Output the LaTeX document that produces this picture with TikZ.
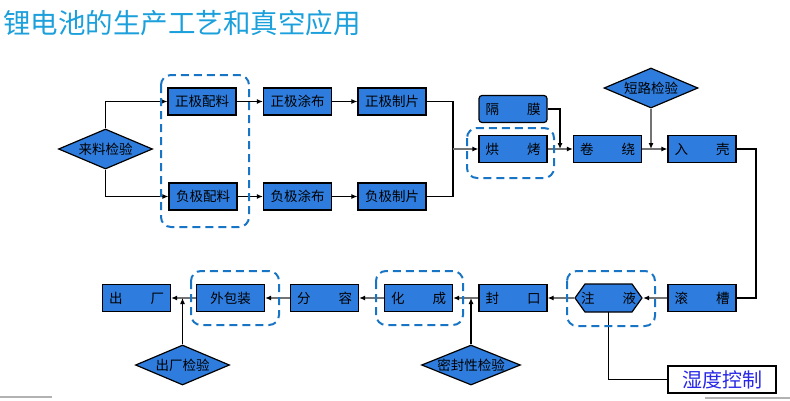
\documentclass[tikz,border=0pt]{standalone}
\usepackage{fontspec}
\setmainfont{Noto Sans CJK SC}
\usetikzlibrary{shapes.geometric,arrows.meta,positioning}
\definecolor{boxblue}{RGB}{46,125,222}
\definecolor{grpblue}{RGB}{24,116,196}
\definecolor{titleblue}{RGB}{27,160,220}
\definecolor{ctrlblue}{RGB}{40,40,230}
\tikzstyle{box}=[rectangle, draw=black, fill=boxblue, line width=1.2, minimum width=68, minimum height=27, text width=55, align=center, inner sep=0, font=\fontsize{13.5}{14}\selectfont]
\tikzstyle{check}=[diamond, draw=black, fill=boxblue, line width=1.2, aspect=2.5, minimum width=94, minimum height=40, inner sep=0, font=\fontsize{13.5}{14}\selectfont]
\tikzstyle{ctrl}=[rectangle, draw=black, fill=white, line width=1.5, minimum width=108, minimum height=27, inner sep=0, text=ctrlblue, font=\fontsize{20}{22}\selectfont]
\tikzstyle{grp}=[draw=grpblue, line width=2, dash pattern=on 8pt off 5pt, rounded corners=10]
\tikzstyle{l1}=[line width=1.1, black]
\tikzstyle{l2}=[line width=1.2, black!55]
\tikzstyle{arr}=[-{Latex[color=black, length=6, width=5]}]
\newcommand{\tw}[2]{\makebox[55pt][s]{#1\hfill #2}}

\begin{document}
\begin{tikzpicture}[x=1pt, y=-1pt]
    \useasboundingbox (0,0) rectangle (790,400);
    \node[anchor=west, inner sep=0, text=titleblue, font=\fontsize{27.5}{29}\selectfont] at (3,23) (title) {锂电池的生产工艺和真空应用};

    % top rows
    \node[check] at (105.5,149) (llj) {来料检验};
    \node[box] at (202,101.5) (zpl) {正极配料};
    \node[box] at (297.5,101.5) (ztb) {正极涂布};
    \node[box] at (392,101.5) (zzp) {正极制片};
    \node[box] at (203,196.5) (fpl) {负极配料};
    \node[box] at (297.5,196.5) (ftb) {负极涂布};
    \node[box] at (392,196.5) (fzp) {负极制片};
    \node[box, rounded corners=3] at (513,109) (gm) {\tw{隔}{膜}};
    \node[box] at (513,149) (hk) {\tw{烘}{烤}};
    \node[box] at (607.5,149) (jr) {\tw{卷}{绕}};
    \node[box] at (702,149) (rk) {\tw{入}{壳}};
    \node[check] at (651,88) (dlj) {短路检验};

    % bottom row
    \node[box] at (702,298) (gc) {\tw{滚}{槽}};
    \draw[fill=boxblue, line width=1.2] (575,298) -- (585,284) -- (632,284) -- (642,298) -- (632,312) -- (585,312) -- cycle;
    \node[box, draw=none, fill=none] at (608.5,298) (zy) {\tw{注}{液}};
    \node[box] at (513,298) (fk) {\tw{封}{口}};
    \node[box] at (418.5,298) (hc) {\tw{化}{成}};
    \node[box] at (324.5,298) (fr) {\tw{分}{容}};
    \node[box] at (230.5,298) (wbz) {外包装};
    \node[box] at (136.5,298) (cc) {\tw{出}{厂}};
    \node[check] at (471,365) (mfj) {密封性检验};
    \node[check] at (182.5,365) (ccj) {出厂检验};
    \node[ctrl] at (722,379.5) (sd) {湿度控制};

    \coordinate (mg) at (453,149);
    \coordinate (j1) at (560,149);
    \coordinate (j2) at (756,298);

    \draw[l1, arr] (llj.north) |- (zpl.west);
    \draw[l1, arr] (llj.south) |- (fpl.west);
    \draw[l1, arr] (zpl) -- (ztb);
    \draw[l1, arr] (ztb) -- (zzp);
    \draw[l1, arr] (fpl) -- (ftb);
    \draw[l1, arr] (ftb) -- (fzp);
    \draw[l1] (zzp.east) -| (mg) |- (fzp.east);
    \draw[l2, arr] (mg) -- (hk);
    \draw[l1, arr] (gm.east) -| (j1);
    \draw[l2, arr] (hk) -- (jr);
    \draw[l2, arr] (dlj.south) -- (dlj.south |- jr.east);
    \draw[l2, arr] (jr) -- (rk);
    \draw[l1] (rk.east) -| (j2) -- (gc.east);
    \draw[l2, arr] (gc) -- (zy);
    \draw[l2, arr] (zy) -- (fk);
    \draw[l2, arr] (fk) -- (hc);
    \draw[l2, arr] (hc) -- (fr);
    \draw[l2, arr] (fr) -- (wbz);
    \draw[l2, arr] (wbz) -- (cc);
    \draw[l1, arr] (mfj.north) -- (mfj.north |- fk.west);
    \draw[l1, arr] (ccj.north) -- (ccj.north |- cc.east);
    \draw[l1] (zy.south) |- (sd.west);

    % dashed groups
    \draw[grp] (161,75) rectangle (249,227);
    \draw[grp] (467,128) rectangle (554,178);
    \draw[grp] (567,271) rectangle (655,326);
    \draw[grp] (376,271) rectangle (463,325);
    \draw[grp] (191,271) rectangle (279,325);

    \draw[black!30, line width=1.5] (0,397) -- (52,397);
    \draw[black!30, line width=1.5] (705,398) -- (790,398);
\end{tikzpicture}
\end{document}
